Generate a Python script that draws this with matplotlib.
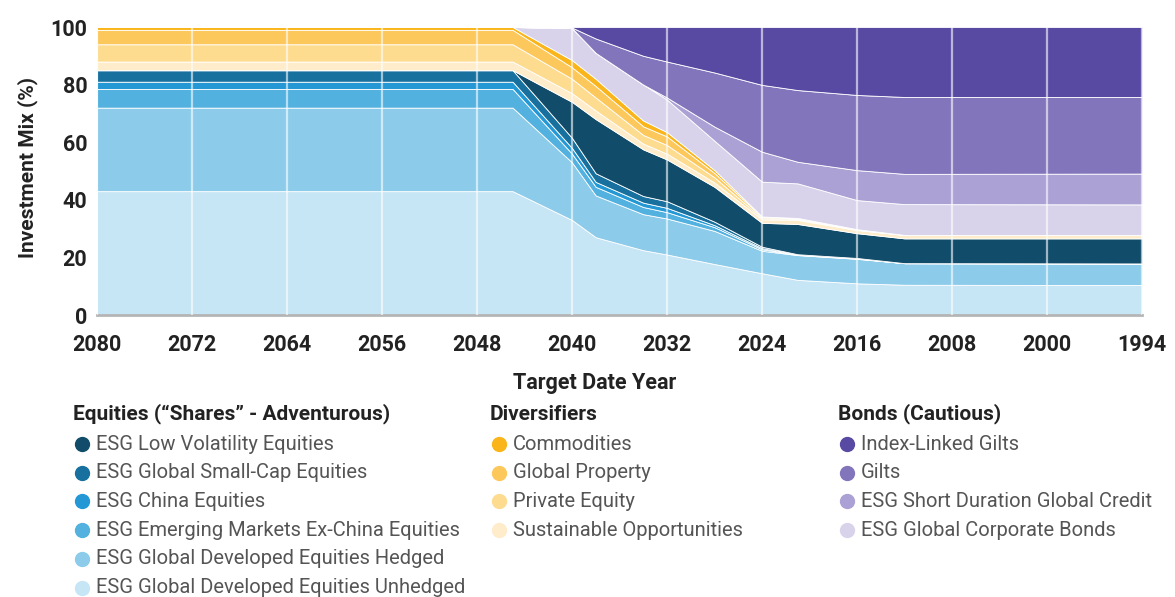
import numpy as np
import matplotlib
matplotlib.use("Agg")
import matplotlib.pyplot as plt
from matplotlib.lines import Line2D

plt.rcParams['font.family'] = ['Roboto', 'DejaVu Sans']

years = np.array([2080, 2045, 2040, 2038, 2034, 2032, 2028, 2024, 2021, 2016, 2012, 1994])
tick_years = [2080, 2072, 2064, 2056, 2048, 2040, 2032, 2024, 2016, 2008, 2000, 1994]

# layer sizes in %, bottom to top
unhedged = [43, 43, 33, 27, 22.5, 21, 17.7, 14.5, 12.2, 11, 10.5, 10.4]
hedged = [29, 29, 20, 14.5, 12.5, 12.5, 11.5, 7.8, 8.6, 8.5, 7.5, 7.5]
em_ex_china = [6.5, 6.5, 3, 3, 2.5, 2.2, 1.3, 0.5, 0.1, 0.1, 0, 0]
china = [2.5, 2.5, 2, 1.7, 1.5, 1.5, 0.7, 0.4, 0.1, 0.1, 0, 0]
small_cap = [4, 4, 3.5, 3, 2.3, 2.3, 1.2, 0.5, 0.1, 0.1, 0, 0]
low_vol = [0, 0, 12.5, 18.8, 16.2, 14.5, 12.1, 8.3, 10.5, 8.6, 8.6, 8.7]
sustainable = [3, 3, 3, 3, 2, 2, 1.5, 1.2, 1.4, 1.1, 1.2, 1.2]
private_eq = [6, 6, 5, 4.5, 3, 3, 1.8, 0.4, 0.3, 0.1, 0, 0]
property_ = [5, 5, 4, 4, 3, 3, 1.5, 0.4, 0.2, 0.1, 0, 0]
commodities = [1, 1, 2.5, 2.5, 2, 1.5, 1, 0.2, 0.2, 0.1, 0, 0]
corp_bonds = [0, 0, 11.1, 9, 12.5, 11.3, 10.2, 12.1, 12, 10.1, 10.7, 10.6]
short_credit = [0, 0, 0, 0, 0, 0.7, 4.9, 10.4, 7.5, 10.4, 10.5, 10.7]
gilts = [0, 0, 0.2, 5, 10, 12.5, 18.8, 23.2, 24.9, 26.1, 26.7, 26.6]
il_gilts = [0, 0, 0.2, 4, 10, 12, 15.8, 20.1, 21.9, 23.6, 24.3, 24.3]

layers = [unhedged, hedged, em_ex_china, china, small_cap, low_vol,
          sustainable, private_eq, property_, commodities,
          corp_bonds, short_credit, gilts, il_gilts]
colors = ['#c6e5f5', '#8ccbea', '#52b1df', '#2498d5', '#17709e', '#114d6a',
          '#feecca', '#fedc8f', '#fdc85b', '#f9b519',
          '#d8d3ea', '#aba1d4', '#8275bb', '#5849a3']

# tick labels are evenly spaced, so map years onto tick index
tick_pos = np.arange(len(tick_years))
xpos = np.interp(-years, -np.array(tick_years), tick_pos)

fig = plt.figure(figsize=(11.75, 5.97), dpi=100)
ax = fig.add_axes([97 / 1175, 1 - 315 / 597, 1045 / 1175, 288 / 597])

ax.stackplot(xpos, *layers, colors=colors, edgecolor='white', linewidth=0.6)

for p in tick_pos:
    ax.axvline(p, color='white', lw=1.6, alpha=0.6, zorder=3)

ax.set_xlim(0, 11)
ax.set_ylim(0, 100)
ax.set_xticks(tick_pos)
ax.set_xticklabels([str(y) for y in tick_years], fontsize=15.5, fontweight='bold', color='#222222')
ax.set_yticks([0, 20, 40, 60, 80, 100])
ax.set_yticklabels(['0', '20', '40', '60', '80', '100'], fontsize=15.5, fontweight='bold', color='#222222')
ax.tick_params(axis='x', length=0, pad=14)
ax.tick_params(axis='y', length=0, pad=7)
for s in ['top', 'right', 'left']:
    ax.spines[s].set_visible(False)
ax.spines['bottom'].set_color('#b5b5b5')
ax.spines['bottom'].set_linewidth(2)

fig.text(28 / 1175, 1 - 168 / 597, 'Investment Mix (%)', rotation=90, ha='center', va='center',
         fontsize=15, fontweight='bold', color='#222222')
fig.text(595 / 1175, 1 - 383 / 597, 'Target Date Year', ha='center', va='center',
         fontsize=15.5, fontweight='bold', color='#222222')

# legend, three groups
groups = [
    (73, 'Equities (\u201cShares\u201d - Adventurous)',
     ['ESG Low Volatility Equities', 'ESG Global Small-Cap Equities', 'ESG China Equities',
      'ESG Emerging Markets Ex-China Equities', 'ESG Global Developed Equities Hedged',
      'ESG Global Developed Equities Unhedged'],
     ['#114d6a', '#17709e', '#2498d5', '#52b1df', '#8ccbea', '#c6e5f5']),
    (490, 'Diversifiers',
     ['Commodities', 'Global Property', 'Private Equity', 'Sustainable Opportunities'],
     ['#f9b519', '#fdc85b', '#fedc8f', '#feecca']),
    (838, 'Bonds (Cautious)',
     ['Index-Linked Gilts', 'Gilts', 'ESG Short Duration Global Credit', 'ESG Global Corporate Bonds'],
     ['#5849a3', '#8275bb', '#aba1d4', '#d8d3ea']),
]
for x0, title, names, cols in groups:
    fig.text(x0 / 1175, 1 - 414 / 597, title, ha='left', va='center',
             fontsize=15, fontweight='bold', color='#222222')
    for i, (name, c) in enumerate(zip(names, cols)):
        yy = 1 - (444 + i * 28.7) / 597
        fig.add_artist(Line2D([(x0 + 9) / 1175], [yy], marker='o', markersize=10,
                              color=c, transform=fig.transFigure))
        fig.text((x0 + 23) / 1175, yy, name, ha='left', va='center',
                 fontsize=14.5, color='#555555')

fig.savefig('out.png', dpi=100)
